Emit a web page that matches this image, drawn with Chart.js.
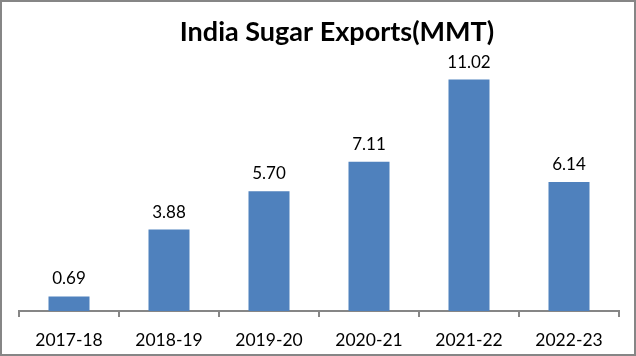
<!DOCTYPE html>
<html><head><meta charset="utf-8">
<script src="https://cdn.jsdelivr.net/npm/chart.js@4"></script>
<style>html,body{margin:0;padding:0;background:#fff;}#wrap{width:636px;height:356px;position:relative;}</style>
</head><body><div id="wrap"><canvas id="c" width="636" height="356"></canvas></div>
<script>
const categories = ["2017-18","2018-19","2019-20","2020-21","2021-22","2022-23"];
const exportsMMT = [0.69, 3.88, 5.70, 7.11, 11.02, 6.14];
const valueLabels = ["0.69","3.88","5.70","7.11","11.02","6.14"];
const titleText = "India Sugar Exports(MMT)";

const FONT = "Lato, 'Open Sans', 'Liberation Sans', sans-serif";

const borderPlugin = {
  id: 'frame',
  beforeDraw(chart) {
    const ctx = chart.ctx;
    ctx.save();
    ctx.fillStyle = '#fff';
    ctx.fillRect(0, 0, chart.width, chart.height);
    ctx.strokeStyle = '#868686';
    ctx.lineWidth = 2;
    ctx.strokeRect(1, 1, chart.width - 2, chart.height - 2);
    ctx.restore();
  },
  afterDraw(chart) {
    const ctx = chart.ctx;
    ctx.save();
    ctx.font = "bold 27px " + FONT;
    ctx.fillStyle = '#000';
    ctx.textAlign = 'center';
    ctx.textBaseline = 'alphabetic';
    ctx.fillText(titleText, 337, 41);
    ctx.restore();
  }
};
const labelPlugin = {
  id: 'vlabels',
  afterDatasetsDraw(chart) {
    const ctx = chart.ctx;
    const meta = chart.getDatasetMeta(0);
    ctx.save();
    ctx.font = "17px " + FONT;
    ctx.fillStyle = '#000';
    ctx.textAlign = 'center';
    ctx.textBaseline = 'bottom';
    meta.data.forEach((bar, i) => {
      ctx.fillText(valueLabels[i], bar.x, bar.y - 9);
    });
    ctx.restore();
  }
};

new Chart(document.getElementById('c'), {
  type: 'bar',
  data: {
    labels: categories,
    datasets: [{
      data: exportsMMT,
      backgroundColor: '#4F81BD',
      borderWidth: 0,
      categoryPercentage: 1,
      barPercentage: 0.41
    }]
  },
  options: {
    responsive: false,
    animation: false,
    devicePixelRatio: 1,
    layout: { padding: { left: 19, right: 17, top: 59, bottom: 0 } },
    plugins: {
      legend: { display: false },
      tooltip: { enabled: false },
      title: { display: false }
    },
    scales: {
      y: { display: false, min: 0, max: 12 },
      x: {
        afterFit(scale) { scale.height = 45; },
        grid: { display: true, drawOnChartArea: false, drawTicks: true, tickLength: 6, color: '#868686', lineWidth: 2, offset: true },
        border: { display: true, color: '#868686', width: 2 },
        ticks: { color: '#000', font: { family: FONT, size: 17.5 }, padding: 13, maxRotation: 0 }
      }
    }
  },
  plugins: [borderPlugin, labelPlugin]
});
</script></body></html>
